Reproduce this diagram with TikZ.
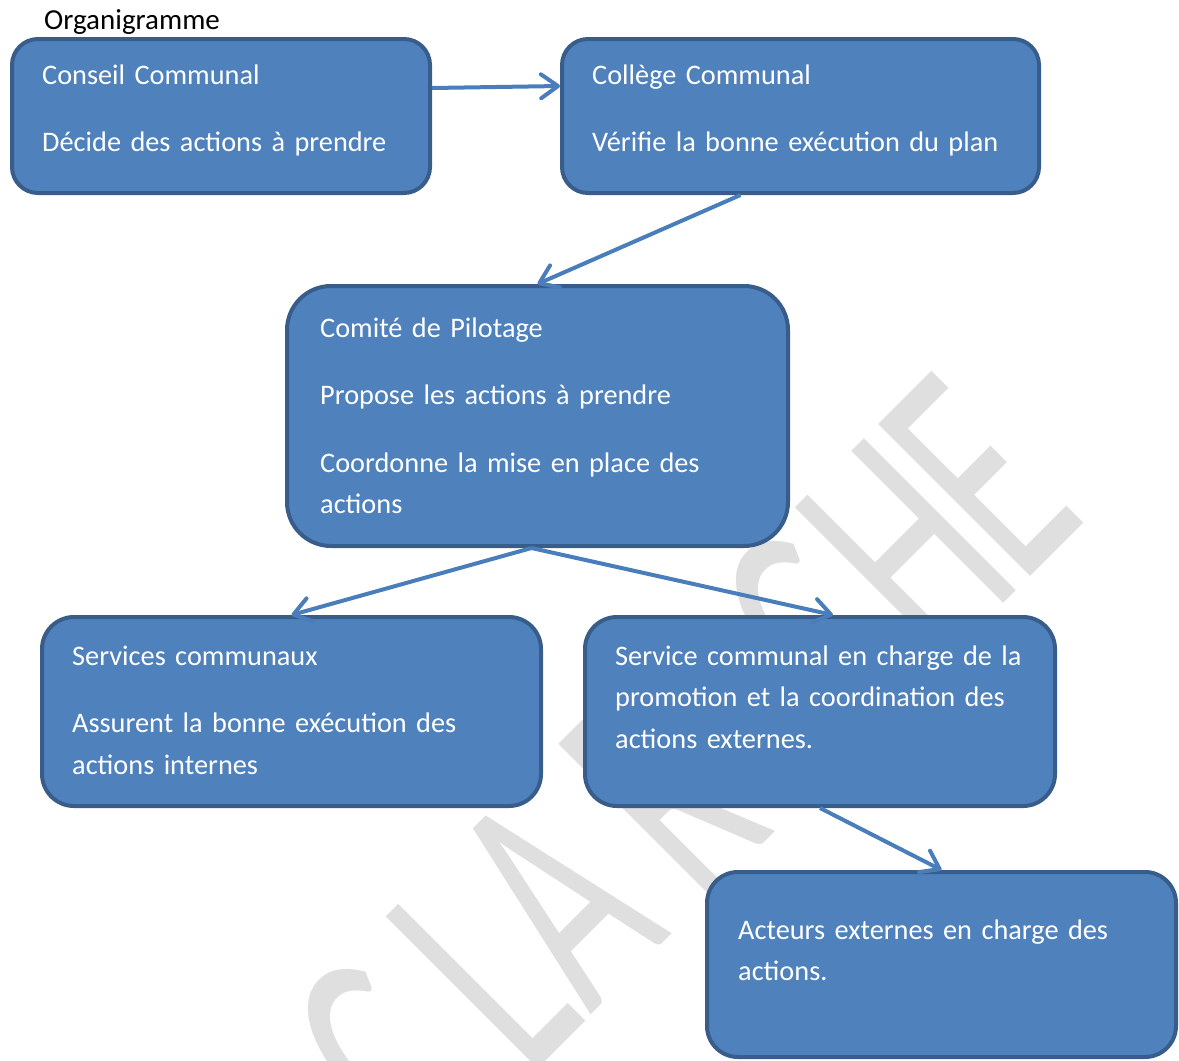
\documentclass[tikz,border=0pt]{standalone}
\usepackage{fontspec}
\setmainfont{Carlito}
\usetikzlibrary{calc}
\usetikzlibrary{arrows.meta}

\definecolor{boxfill}{RGB}{79,129,189}
\definecolor{boxline}{RGB}{56,93,138}
\definecolor{arrowblue}{RGB}{74,126,187}
\definecolor{wmgray}{RGB}{223,223,223}

\tikzset{>={Straight Barb[length=17pt,width=24pt,round]},
	orgbox/.style={draw=boxline, fill=boxfill, line width=4pt, inner sep=0pt},
	orgtext/.style={text=white, anchor=base west, inner sep=0pt, align=left, text width=470pt,
		font=\fontsize{28.3}{41.5}\selectfont},
	link/.style={draw=arrowblue, line width=4pt, ->},
	wmark/.style={text=wmgray, anchor=base west, inner sep=0pt, rotate=45, xscale=0.6,
		font=\fontsize{335}{335}\selectfont}}

\begin{document}
\begin{tikzpicture}[x=1pt, y=-1pt]
\useasboundingbox (0,0) rectangle (1179,1061);
\clip (0,0) rectangle (1179,1061);

\foreach \ch/\px/\py [count=\k] in {C/428/1179, L/528/1079, A/590/1016, R/700/907,
		C/856/751, H/937/670, E/1020/587}
	\node[wmark] (wm\k) at (\px,\py) {\ch};

\node[anchor=base west, inner sep=0pt, font=\fontsize{29}{35}\selectfont] (titre) at (44,29) {Organigramme};

\node[orgbox, minimum width=418pt, minimum height=154pt, rounded corners=26pt] (conseil) at (221,116) {};
\node[orgbox, minimum width=477pt, minimum height=154pt, rounded corners=26pt] (college) at (800.5,116) {};
\node[orgbox, minimum width=501pt, minimum height=260pt, rounded corners=44pt] (comite) at (537.5,416) {};
\node[orgbox, minimum width=499pt, minimum height=189pt, rounded corners=32pt] (services) at (291.5,711.5) {};
\node[orgbox, minimum width=470pt, minimum height=189pt, rounded corners=32pt] (servcomm) at (820,711.5) {};
\node[orgbox, minimum width=469pt, minimum height=185pt, rounded corners=31pt] (acteurs) at (941.5,964.5) {};

\node[orgtext] (conseil-txt) at ($(conseil.north west)+(32,47)$)
	{Conseil Communal\\[26pt]Décide des actions à prendre};
\node[orgtext] (college-txt) at ($(college.north west)+(32,47)$)
	{Collège Communal\\[26pt]Vérifie la bonne exécution du plan};
\node[orgtext] (comite-txt) at ($(comite.north west)+(35,53)$)
	{Comité de Pilotage\\[26pt]Propose les actions à prendre\\[26pt]Coordonne la mise en place des\\actions};
\node[orgtext] (services-txt) at ($(services.north west)+(32,50)$)
	{Services communaux\\[26pt]Assurent la bonne exécution des\\actions internes};
\node[orgtext] (servcomm-txt) at ($(servcomm.north west)+(32,50)$)
	{Service communal en charge de la\\promotion et la coordination des\\actions externes.};
\node[orgtext] (acteurs-txt) at ($(acteurs.north west)+(33,69)$)
	{Acteurs externes en charge des\\actions.};

\draw[link] ([yshift=28pt]conseil.east) -- ([yshift=30pt]college.west);
\draw[link] ([xshift=-60pt]college.south) -- (comite.north);
\draw[link] ([xshift=-6pt]comite.south) -- (services.north);
\draw[link] ([xshift=-6pt]comite.south) -- ([xshift=13pt]servcomm.north);
\draw[link] (servcomm.south) -- (acteurs.north);
\end{tikzpicture}
\end{document}
